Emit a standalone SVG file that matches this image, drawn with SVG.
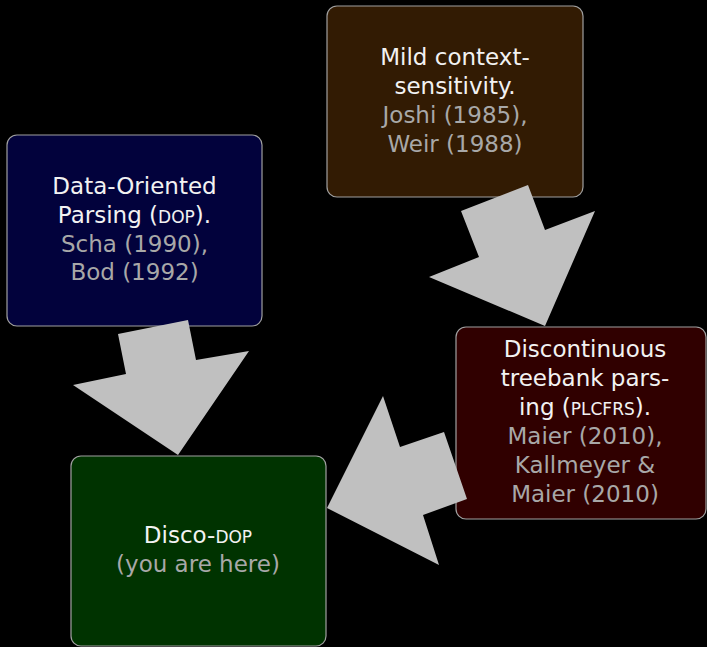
<svg xmlns="http://www.w3.org/2000/svg" width="707" height="647" viewBox="0 0 707 647">
<style>
.box{stroke:#a0a0a0;stroke-width:1.2}
.t{font-family:"DejaVu Sans","Liberation Sans",sans-serif;font-size:23px;text-anchor:middle}
.w{fill:#f2f2f2}
.g{fill:#a8a8a8}
.sc{font-size:17px}
.arrow{fill:#c0c0c0}
</style>
<rect width="707" height="647" fill="#000"/>
<g id="dop">
<rect class="box" x="7" y="135" width="255" height="191" rx="10" fill="#02023c"/>
<text class="t"><tspan class="w" x="134.5" y="194">Data-Oriented</tspan><tspan class="w" x="134.5" y="223">Parsing (<tspan class="sc">DOP</tspan>).</tspan><tspan class="g" x="134.5" y="252">Scha (1990),</tspan><tspan class="g" x="134.5" y="280">Bod (1992)</tspan></text>
</g>
<g id="mcs">
<rect class="box" x="327" y="6" width="256" height="191" rx="10" fill="#321b03"/>
<text class="t"><tspan class="w" x="455" y="65">Mild context-</tspan><tspan class="w" x="455" y="94">sensitivity.</tspan><tspan class="g" x="455" y="123">Joshi (1985),</tspan><tspan class="g" x="455" y="152">Weir (1988)</tspan></text>
</g>
<g id="plcfrs">
<rect class="box" x="456" y="327" width="250" height="192" rx="10" fill="#300000"/>
<text class="t"><tspan class="w" x="585" y="357">Discontinuous</tspan><tspan class="w" x="585" y="386">treebank pars-</tspan><tspan class="w" x="585" y="415">ing (<tspan class="sc">PLCFRS</tspan>).</tspan><tspan class="g" x="585" y="444">Maier (2010),</tspan><tspan class="g" x="585" y="473">Kallmeyer &amp;</tspan><tspan class="g" x="585" y="502">Maier (2010)</tspan></text>
</g>
<g id="discodop">
<rect class="box" x="71" y="456" width="255" height="190" rx="10" fill="#003300"/>
<text class="t"><tspan class="w" x="198" y="543">Disco-<tspan class="sc">DOP</tspan></tspan><tspan class="g" x="198" y="572">(you are here)</tspan></text>
</g>
<g id="connectors">
<polygon class="arrow" points="118,334 188,320 196,360 249,351 178,455 73,385 126,374"/>
<polygon class="arrow" points="461,211 528,185 545,230 595,211 545,326 429,277 479,257"/>
<polygon class="arrow" points="467,499 423,515 439,565 327,508 383,396 400,447 444,432"/>
</g>
</svg>
